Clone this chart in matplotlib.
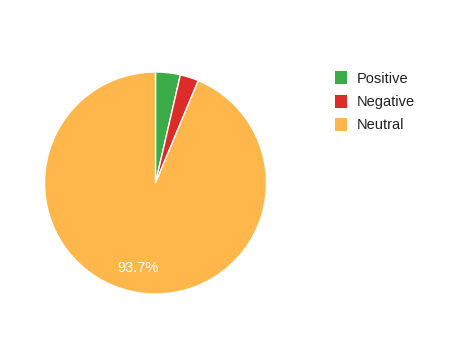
import matplotlib.pyplot as plt
from matplotlib.patches import Patch

labels = ['Positive', 'Negative', 'Neutral']
shares = [3.6, 2.7, 93.7]
colors = ['#3aab47', '#dc2b28', '#ffb74b']

plt.rcParams['font.family'] = ['Liberation Sans', 'DejaVu Sans']

W, H = 449, 348
fig = plt.figure(figsize=(W / 100, H / 100), dpi=100)

# pie centre ~ (155, 183) px, radius ~111 px
cx, cy, r = 155.5, 183, 111
ax = fig.add_axes([(cx - r) / W, (H - cy - r) / H, 2 * r / W, 2 * r / H])


def pct(p):
    return '%.1f%%' % p if p > 10 else ''


wedges, texts, autotexts = ax.pie(
    shares, colors=colors, startangle=90, counterclock=False,
    autopct=pct, pctdistance=0.78,
    wedgeprops=dict(edgecolor='white', linewidth=1),
    textprops=dict(color='white', fontsize=10.5))
ax.set_xlim(-1, 1)
ax.set_ylim(-1, 1)
ax.set_aspect('equal')
ax.axis('off')

handles = [Patch(facecolor=c, edgecolor='none') for c in colors]
fig.legend(handles, labels, loc='upper left', bbox_to_anchor=(322 / W, 1 - 58 / H),
           frameon=False, fontsize=10.5, handlelength=0.8, handleheight=1.0,
           handletextpad=0.7, labelspacing=0.61, labelcolor='#222222')

fig.savefig('out.png', dpi=100)
